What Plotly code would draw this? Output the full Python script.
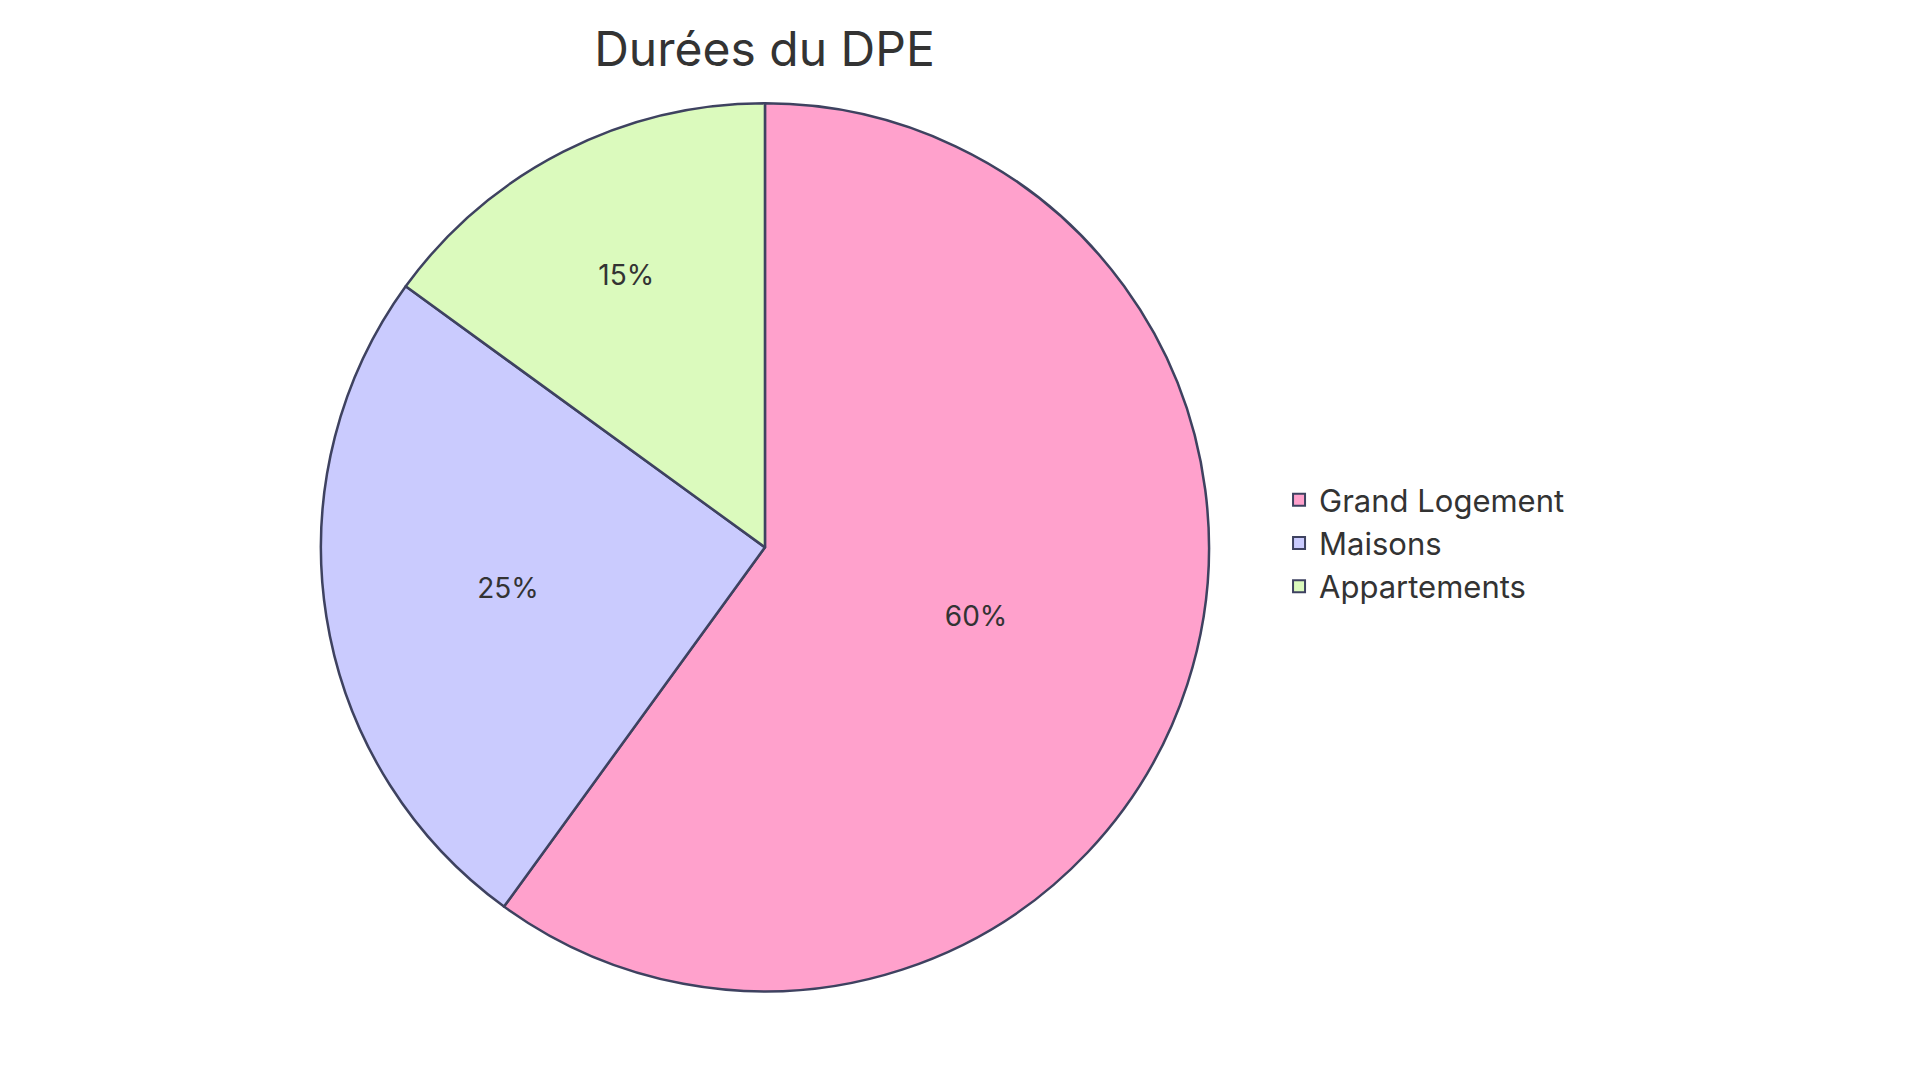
import plotly.graph_objects as go

labels = ["Grand Logement", "Maisons", "Appartements"]
values = [60, 25, 15]
colors = ["#FFA1CC", "#CACBFE", "#DBFABD"]

fig = go.Figure()
fig.add_trace(go.Pie(labels=labels, values=values, sort=False, direction="clockwise",
                     rotation=0, marker=dict(colors=colors, line=dict(color="#3E4260", width=2.5)),
                     textinfo="percent", texttemplate="%{percent:.0%}", textposition="inside",
                     insidetextorientation="horizontal",
                     textfont=dict(size=28, color="#333333"),
                     domain=dict(x=[0.1625, 0.626], y=[0.092, 0.912])))

fig.update_layout(
    width=1920, height=1083, paper_bgcolor="white",
    font=dict(family="Inter, Noto Sans, sans-serif", color="#333333"),
    title=dict(text="Durées du DPE", x=0.394, xanchor="center", y=0.962, yanchor="middle",
               font=dict(size=48, color="#333333")),
    legend=dict(x=0.662, y=0.506, xanchor="left", yanchor="middle",
                font=dict(size=31, color="#333333"), itemsizing="constant", tracegroupgap=0),
    margin=dict(l=0, r=0, t=0, b=0),
)
fig.write_html("out.html")
